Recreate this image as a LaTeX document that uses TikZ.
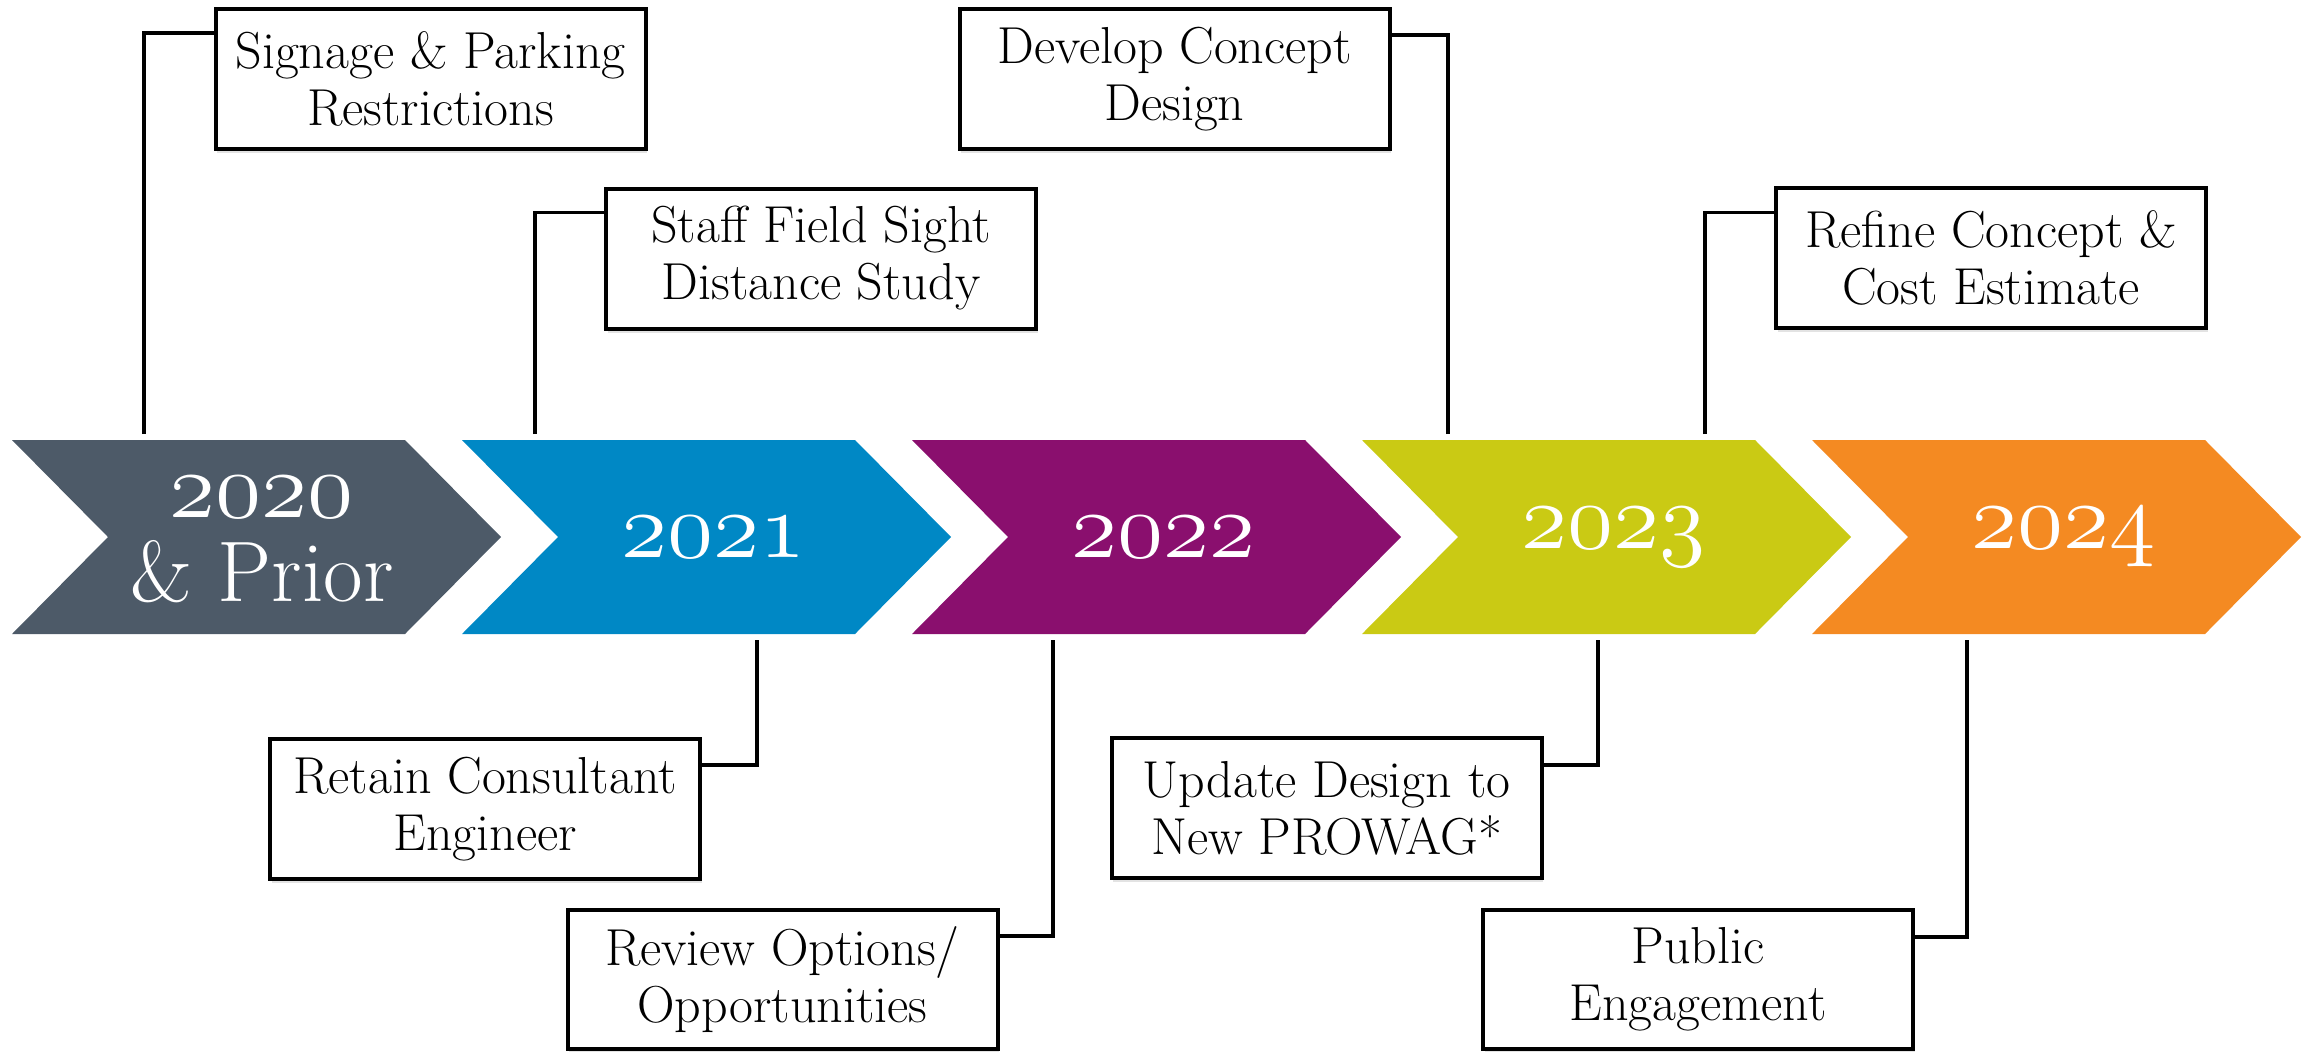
\RequirePackage{fix-cm}
\documentclass[tikz,border=0pt]{standalone}
\usetikzlibrary{shadows}
\definecolor{cslate}{HTML}{4D5A68}
\definecolor{cblue}{HTML}{0088C5}
\definecolor{cplum}{HTML}{8A0F6E}
\definecolor{clime}{HTML}{CACA14}
\definecolor{corange}{HTML}{F48A22}
\newcommand{\yrnum}[1]{{\fontsize{94bp}{84bp}\usefont{OML}{cmm}{m}{it}#1}}
\tikzset{
  yearlabel/.style={text=white, align=center, font=\fontsize{86bp}{84bp}\selectfont, inner sep=0pt},
  taskbox/.style={draw=black, line width=4bp, fill=white, minimum width=430bp, minimum height=140bp,
     align=center, inner sep=0pt, font=\fontsize{52bp}{57bp}\selectfont,
     drop shadow={shadow xshift=1.5bp, shadow yshift=-4bp, opacity=0.22}},
  link/.style={draw=black, line width=3.5bp}
}
\begin{document}
\begin{tikzpicture}[x=1bp, y=-1bp]
\useasboundingbox (0,0) rectangle (2308,1051);
% chevrons
\foreach \i/\c in {0/cslate,1/cblue,2/cplum,3/clime,4/corange}{
  \pgfmathsetmacro{\L}{12+450*\i}
  \fill[\c] (\L,440) -- ({\L+393},440) -- ({\L+489},537) -- ({\L+393},634) -- (\L,634) -- ({\L+96},537) -- cycle;
}
\node[yearlabel] (y0) at (262,540) {\yrnum{2020}\\\& Prior};
\node[yearlabel] (y1) at (714,537) {\yrnum{2021}};
\node[yearlabel] (y2) at (1164,537) {\yrnum{2022}};
\node[yearlabel] (y3) at (1614,537) {\yrnum{2023}};
\node[yearlabel] (y4) at (2064,537) {\yrnum{2024}};
% boxes
\node[taskbox] (b1) at (430.5,79) {Signage \& Parking\\Restrictions};
\node[taskbox] (b2) at (821,258.5) {Staff Field Sight\\Distance Study};
\node[taskbox] (b3) at (1174.5,79) {Develop Concept\\Design};
\node[taskbox] (b4) at (1991,257.5) {Refine Concept \&\\Cost Estimate};
\node[taskbox] (b5) at (485,809) {Retain Consultant\\Engineer};
\node[taskbox, minimum height=139bp] (b6) at (782.5,979.5) {Review Options/\\Opportunities};
\node[taskbox] (b7) at (1326.5,808) {Update Design to\\New PROWAG*};
\node[taskbox, minimum height=139bp] (b8) at (1698,979.5) {Public\\Engagement};
% connector ends on the timeline
\coordinate (c1) at (144,434);
\coordinate (c2) at (535,434);
\coordinate (c3) at (1448,434);
\coordinate (c4) at (1705,434);
\coordinate (c5) at (757,640);
\coordinate (c6) at (1053,640);
\coordinate (c7) at (1598,640);
\coordinate (c8) at (1967,640);
% connectors
\draw[link] (c1) |- ([yshift=-26bp]b1.north west);
\draw[link] (c2) |- ([yshift=-26bp]b2.north west);
\draw[link] (c3) |- ([yshift=-28bp]b3.north east);
\draw[link] (c4) |- ([yshift=-27bp]b4.north west);
\draw[link] (c5) |- ([yshift=-28bp]b5.north east);
\draw[link] (c6) |- ([yshift=-28bp]b6.north east);
\draw[link] (c7) |- ([yshift=-29bp]b7.north east);
\draw[link] (c8) |- ([yshift=-29bp]b8.north east);
\end{tikzpicture}
\end{document}
